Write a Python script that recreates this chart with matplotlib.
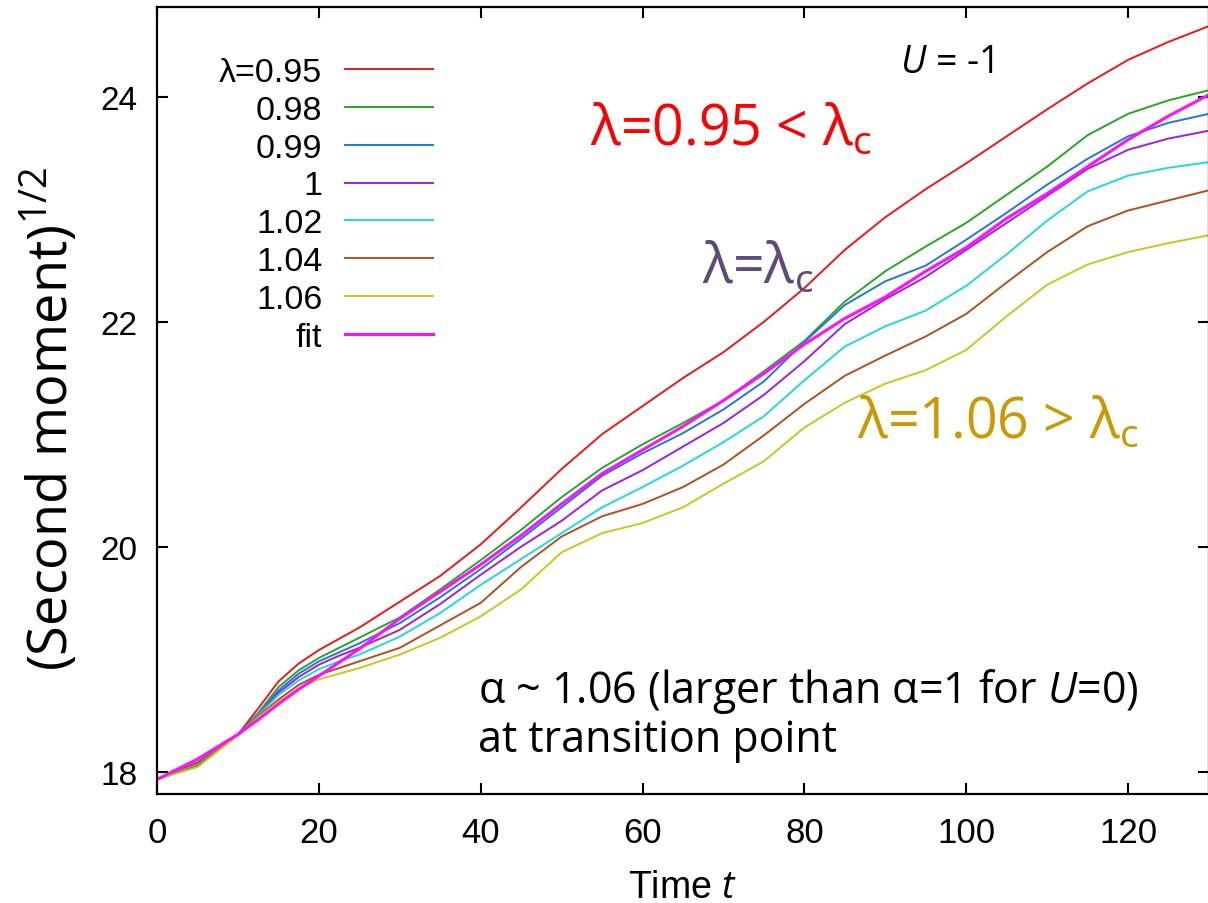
import numpy as np
import matplotlib.pyplot as plt

# mathtext pieces (italic U, t and the lambda_c subscripts) in Open Sans
plt.rcParams['mathtext.fontset'] = 'custom'
plt.rcParams['mathtext.rm'] = 'Open Sans'
plt.rcParams['mathtext.it'] = 'Open Sans:italic'
plt.rcParams['mathtext.bf'] = 'Open Sans:bold'

W, H = 1208, 904

# sampled times (denser where the curves bend early on)
time = [0, 5, 10, 12.5, 15, 17.5, 20, 22.5, 25, 30, 35, 40, 45, 50, 55, 60, 65,
        70, 75, 80, 85, 90, 95, 100, 105, 110, 115, 120, 125, 130]

# sqrt of the second moment for each lambda, and the power-law fit
lam_095 = [17.93, 18.08, 18.33, 18.56, 18.80, 18.96, 19.08, 19.18, 19.28, 19.51,
           19.74, 20.02, 20.35, 20.69, 21.00, 21.25, 21.50, 21.73, 22.00, 22.30,
           22.64, 22.93, 23.18, 23.41, 23.65, 23.89, 24.12, 24.33, 24.49, 24.63]
lam_098 = [17.93, 18.06, 18.33, 18.52, 18.75, 18.90, 19.01, 19.10, 19.19, 19.37,
           19.62, 19.88, 20.15, 20.44, 20.70, 20.91, 21.10, 21.30, 21.56, 21.83,
           22.18, 22.45, 22.67, 22.88, 23.13, 23.38, 23.66, 23.85, 23.97, 24.06]
lam_099 = [17.93, 18.06, 18.33, 18.51, 18.72, 18.87, 18.98, 19.06, 19.14, 19.32,
           19.55, 19.80, 20.07, 20.35, 20.63, 20.83, 21.01, 21.22, 21.47, 21.82,
           22.15, 22.36, 22.50, 22.73, 22.97, 23.22, 23.45, 23.65, 23.77, 23.85]
lam_100 = [17.93, 18.06, 18.33, 18.50, 18.70, 18.84, 18.95, 19.03, 19.10, 19.26,
           19.49, 19.75, 20.00, 20.23, 20.50, 20.68, 20.89, 21.10, 21.35, 21.65,
           21.98, 22.20, 22.40, 22.64, 22.88, 23.12, 23.36, 23.53, 23.63, 23.70]
lam_102 = [17.93, 18.06, 18.33, 18.50, 18.68, 18.81, 18.91, 18.98, 19.04, 19.20,
           19.41, 19.66, 19.89, 20.12, 20.35, 20.53, 20.72, 20.93, 21.16, 21.48,
           21.78, 21.96, 22.10, 22.32, 22.60, 22.90, 23.16, 23.30, 23.37, 23.42]
lam_104 = [17.93, 18.05, 18.33, 18.49, 18.64, 18.77, 18.86, 18.92, 18.98, 19.10,
           19.30, 19.50, 19.82, 20.09, 20.27, 20.38, 20.53, 20.73, 20.99, 21.27,
           21.52, 21.70, 21.87, 22.07, 22.35, 22.62, 22.85, 22.99, 23.08, 23.17]
lam_106 = [17.93, 18.04, 18.32, 18.48, 18.62, 18.74, 18.82, 18.87, 18.92, 19.04,
           19.19, 19.38, 19.62, 19.95, 20.12, 20.21, 20.35, 20.56, 20.76, 21.06,
           21.28, 21.45, 21.57, 21.75, 22.05, 22.33, 22.51, 22.62, 22.70, 22.77]
fit = [17.93, 18.11, 18.33, 18.46, 18.60, 18.73, 18.85, 18.97, 19.09, 19.36,
       19.60, 19.84, 20.10, 20.38, 20.65, 20.86, 21.07, 21.30, 21.54, 21.80,
       22.03, 22.22, 22.45, 22.66, 22.92, 23.14, 23.38, 23.62, 23.83, 24.02]

labels = ['λ=0.95', '0.98', '0.99', '1', '1.02', '1.04', '1.06', 'fit']
series = [lam_095, lam_098, lam_099, lam_100, lam_102, lam_104, lam_106, fit]
colors = ['#f01818', '#22aa22', '#2277dd', '#a020e0', '#22d8e0', '#b4501e',
          '#c8c81e', '#ff10ff']
widths = [1.4, 1.4, 1.4, 1.4, 1.4, 1.4, 1.4, 2.2]

fig = plt.figure(figsize=(W / 100, H / 100), dpi=100)
ax = fig.add_axes([157 / W, 109 / H, 1052 / W, 787 / H])

for y, lab, c, lw in zip(series, labels, colors, widths):
    ax.plot(time, y, color=c, lw=lw, label=lab)

ax.set_xlim(0, 130)
ax.set_ylim(17.8, 24.8)
ax.set_xticks([0, 20, 40, 60, 80, 100, 120])
ax.set_yticks([18, 20, 22, 24])
for s in ax.spines.values():
    s.set_linewidth(1.6)
ax.tick_params(direction='in', length=8, width=1.5, top=True, right=True)
ax.tick_params(axis='y', pad=14)
ax.tick_params(axis='x', pad=16)
for t in ax.get_yticklabels():
    t.set_fontfamily(['Liberation Sans', 'DejaVu Sans'])
    t.set_fontsize(24)
for t in ax.get_xticklabels():
    t.set_fontfamily(['Liberation Sans Narrow', 'Liberation Sans'])
    t.set_fontsize(25)

ax.set_xlabel('Time $t$', fontsize=27,
              family=['Liberation Sans Narrow', 'Liberation Sans'], labelpad=14)
ax.set_ylabel('(Second moment)$^{\\mathregular{1/2}}$', fontsize=39,
              family='Open Sans')
ax.yaxis.set_label_coords(-0.072, 0.478)

leg = ax.legend(loc='upper right', bbox_to_anchor=(433 / W, 1 - 58 / H),
                bbox_transform=fig.transFigure, frameon=False, markerfirst=False,
                prop={'family': 'Liberation Sans', 'size': 24.5},
                handlelength=2.6, handletextpad=0.65, labelspacing=0.2,
                borderpad=0, borderaxespad=0)


def ftext(x, y, s, **kw):
    fig.text(x / W, 1 - y / H, s, va='baseline', ha='left', family='Open Sans', **kw)


ftext(900, 73, '$U$ = -1', fontsize=27, color='black')
ftext(590, 145, 'λ=0.95 < $\\mathregular{λ_c}$', fontsize=40, color='#ff0000')
ftext(702, 283, 'λ=$\\mathregular{λ_c}$', fontsize=40, color='#604a7b')
ftext(857, 438, 'λ=1.06 > $\\mathregular{λ_c}$', fontsize=40, color='#cc9900')
ftext(478, 703, 'α ~ 1.06 (larger than α=1 for $U$=0)', fontsize=31, color='black')
ftext(478, 752, 'at transition point', fontsize=31, color='black')

fig.savefig('out.png', dpi=100)
